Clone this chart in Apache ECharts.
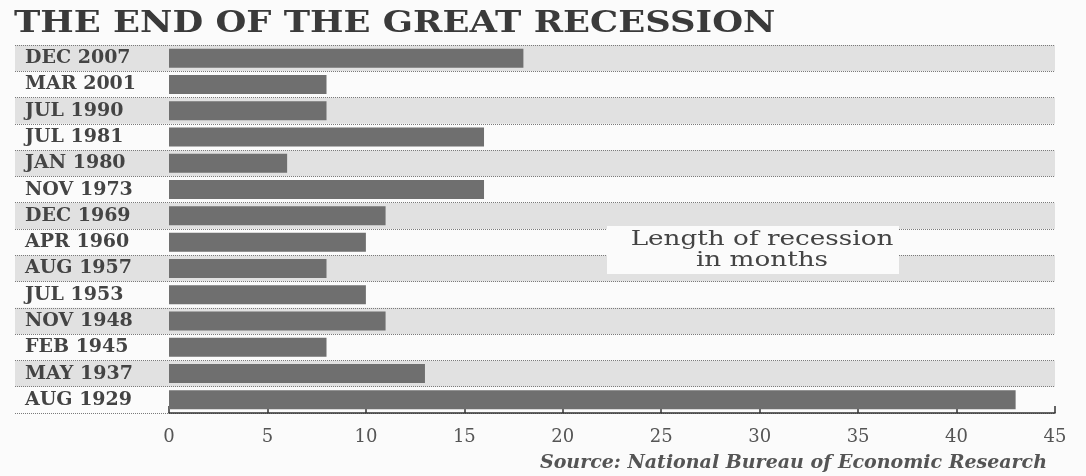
<!DOCTYPE html>
<html><head><meta charset="utf-8">
<script src="https://cdn.jsdelivr.net/npm/echarts@6/dist/echarts.min.js"></script>
<style>html,body{margin:0;padding:0;background:#fbfbfb}#c{width:1086px;height:476px}</style>
</head><body><div id="c"></div>
<script>
var categories = ['DEC 2007','MAR 2001','JUL 1990','JUL 1981','JAN 1980','NOV 1973','DEC 1969','APR 1960','AUG 1957','JUL 1953','NOV 1948','FEB 1945','MAY 1937','AUG 1929'];
var months = [18, 8, 8, 16, 6, 16, 11, 10, 8, 10, 11, 8, 13, 43];
var xTicks = [0, 5, 10, 15, 20, 25, 30, 35, 40, 45];
var titleText = 'THE END OF THE GREAT RECESSION';
var sourceText = 'Source: National Bureau of Economic Research';
var noteText = 'Length of recession\nin months';

var serif = '"DejaVu Serif", "Liberation Serif", serif';
var chart = echarts.init(document.getElementById('c'));
chart.setOption({
  animation: false,
  backgroundColor: '#fbfbfb',
  title: [{
    text: sourceText, right: 34, top: 449,
    textStyle: {fontFamily: serif, fontStyle: 'italic', fontWeight: 'bold', fontSize: 19, color: '#555'}
  }],
  grid: [
    {left: 15, right: 31, top: 45, bottom: 63},
    {left: 169, right: 31, top: 45, bottom: 63}
  ],
  xAxis: [
    {gridIndex: 0, type: 'value', min: 0, max: 45, show: false},
    {gridIndex: 1, type: 'value', min: 0, max: 45, interval: 5,
     axisLine: {show: true, lineStyle: {color: '#333', width: 1.5}},
     axisTick: {show: true, inside: true, length: 7, lineStyle: {color: '#333', width: 1.5}},
     splitLine: {show: false},
     axisLabel: {fontFamily: serif, fontSize: 18, color: '#555', margin: 15,
       formatter: function (v) { return xTicks.indexOf(v) >= 0 ? String(v) : ''; }}
    }
  ],
  yAxis: [
    {gridIndex: 0, type: 'category', data: categories, inverse: true,
     axisLine: {show: false}, axisTick: {show: false}, axisLabel: {show: false},
     splitArea: {show: true, areaStyle: {color: ['#e1e1e1', 'rgba(255,255,255,0)']}},
     splitLine: {show: true, lineStyle: {color: '#7a7a7a', type: 'dotted', width: 1}}
    },
    {gridIndex: 1, type: 'category', data: categories, inverse: true,
     axisLine: {show: false}, axisTick: {show: false},
     axisLabel: {align: 'left', margin: 144, fontFamily: serif, fontSize: 19, fontWeight: 'bold', color: '#444'}
    }
  ],
  graphic: [{
    type: 'text', x: 14, y: 9, scaleX: 1.18, z: 6,
    style: {text: titleText, fontFamily: serif, fontSize: 30, fontWeight: 'bold', fill: '#3a3a3a'}
  }, {
    type: 'rect', shape: {x: 607, y: 226, width: 292, height: 48},
    style: {fill: '#fbfbfb'}, z: 5
  }, {
    type: 'text', x: 762, y: 250, scaleX: 1.25, z: 6,
    style: {text: noteText, fontFamily: serif, fontSize: 21, fill: '#444', align: 'center', verticalAlign: 'middle', lineHeight: 21}
  }],
  series: [{
    type: 'bar', xAxisIndex: 1, yAxisIndex: 1, data: months, barWidth: 19,
    itemStyle: {color: '#6f6f6f'}, z: 3
  }]
});
</script></body></html>
